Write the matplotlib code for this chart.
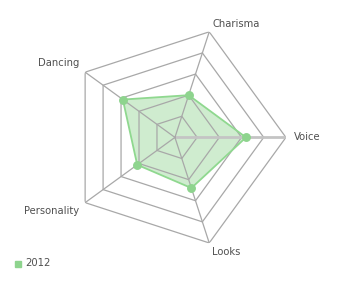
import numpy as np
import matplotlib
matplotlib.use("Agg")
import matplotlib.pyplot as plt
from matplotlib.patches import Rectangle

categories = ["Voice", "Charisma", "Dancing", "Personality", "Looks"]
values_2012 = [3.2, 2.0, 2.9, 2.1, 2.4]
ring_levels = [1, 2, 3, 4, 5]
series_name = "2012"

grid_c = "#a8a8a8"
text_c = "#505050"
line_c = "#8fd88f"
fill_c = "#c4e8c4"
mark_c = "#8ed48e"

fig = plt.figure(figsize=(3.4, 2.95), dpi=100)
ax = fig.add_axes([0.188, 0.158, 0.653, 0.7525], projection="polar")
ax.set_theta_offset(0)
ax.set_theta_direction(1)
ax.set_ylim(0, ring_levels[-1])
ax.grid(False)
ax.set_xticks([])
ax.set_yticks([])
ax.spines["polar"].set_visible(False)
ax.patch.set_alpha(0)

n = len(categories)
theta = np.arange(n) * 2 * np.pi / n
theta_c = np.concatenate([theta, theta[:1]])

vals = np.array(values_2012 + values_2012[:1])
ax.fill(theta_c, vals, color=fill_c, alpha=0.8, zorder=1, lw=0)

# pentagon rings
for lv in ring_levels:
    ax.plot(theta_c, [lv] * (n + 1), color=grid_c, lw=0.9, zorder=2)
# spokes
for i, t in enumerate(theta):
    if i == 0:
        ax.plot([t, t], [0, ring_levels[-1]], color="#c4c4c4", lw=2.0, zorder=2)
    else:
        ax.plot([t, t], [0, ring_levels[-1]], color=grid_c, lw=0.9, zorder=2)

ax.plot(theta_c, vals, color=line_c, lw=1.3, zorder=3)
ax.plot(theta, values_2012, "o", color=mark_c, ms=5.4, mec=mark_c, zorder=4)

label_cfg = {
    "Voice": ((8, 0), "left", "center"),
    "Charisma": ((3, 3), "left", "bottom"),
    "Dancing": ((-6, 4), "right", "bottom"),
    "Personality": ((-6, -3), "right", "top"),
    "Looks": ((3, -4), "left", "top"),
}
for t, name in zip(theta, categories):
    off, ha, va = label_cfg[name]
    ax.annotate(name, xy=(t, ring_levels[-1]), xytext=off, textcoords="offset pixels",
                ha=ha, va=va, fontsize=7.2, color=text_c, annotation_clip=False)

# legend
fig.patches.append(Rectangle((15 / 340, 1 - 266.5 / 295), 6 / 340, 6 / 295,
                             transform=fig.transFigure, color=mark_c))
fig.text(25 / 340, 1 - 263.5 / 295, series_name, fontsize=7.2, color=text_c,
         ha="left", va="center")

fig.savefig("out.png", dpi=100)
